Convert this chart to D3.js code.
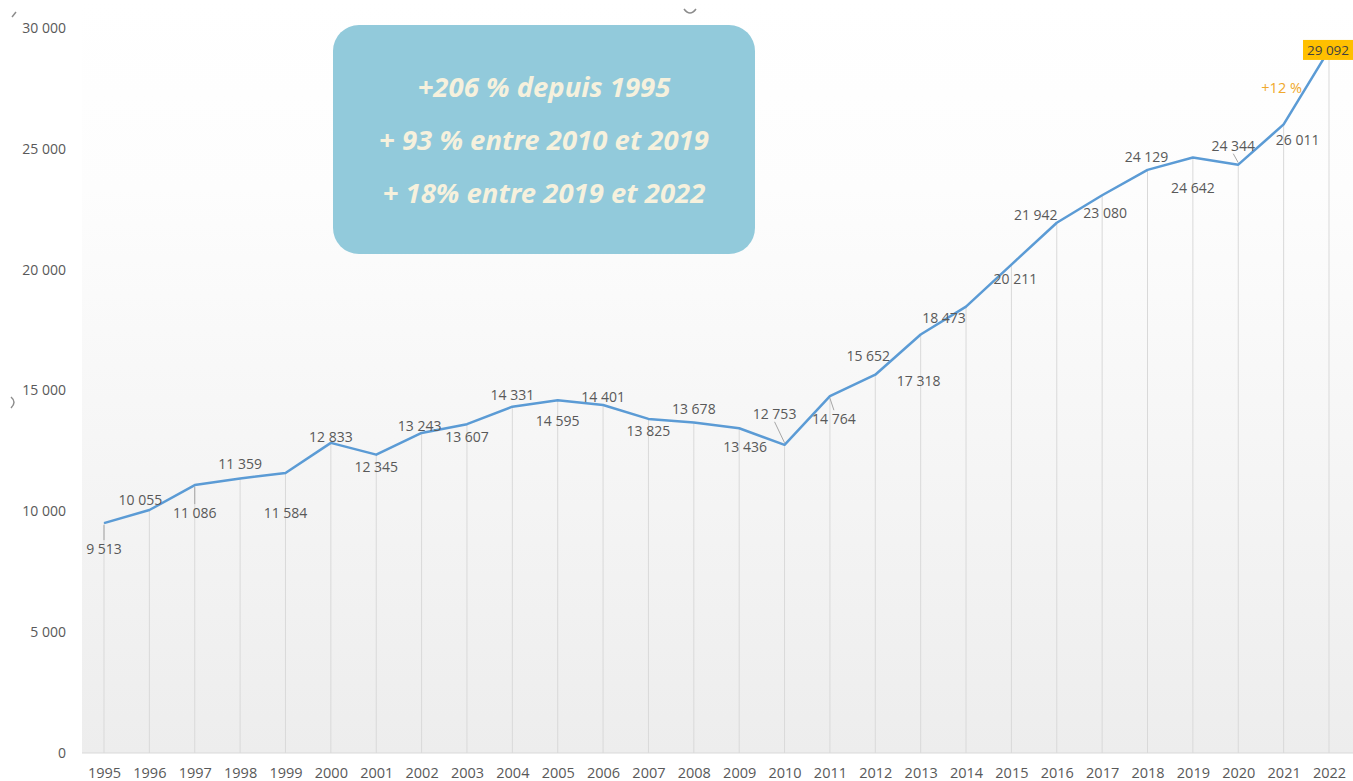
<!DOCTYPE html>
<html>
<head>
<meta charset="utf-8">
<script src="https://cdn.jsdelivr.net/npm/d3@7"></script>
<style>
  body { margin: 0; background: #fff; }
  svg { display: block; font-family: "Open Sans", "Noto Sans", sans-serif; }
</style>
</head>
<body>
<div id="chart"></div>
<script>
// data
const years = [1995, 1996, 1997, 1998, 1999, 2000, 2001, 2002, 2003, 2004,
  2005, 2006, 2007, 2008, 2009, 2010, 2011, 2012, 2013, 2014,
  2015, 2016, 2017, 2018, 2019, 2020, 2021, 2022];
const values = [9513, 10055, 11086, 11359, 11584, 12833, 12345, 13243, 13607, 14331,
  14595, 14401, 13825, 13678, 13436, 12753, 14764, 15652, 17318, 18473,
  20211, 21942, 23080, 24129, 24642, 24344, 26011, 29092];
const yTicks = [0, 5000, 10000, 15000, 20000, 25000, 30000];
const boxLines = ["+206 % depuis 1995", "+ 93 % entre 2010 et 2019", "+ 18% entre 2019 et 2022"];
const growthLabel = "+12 %";

// label placement (dx, dy from point, optional leader)
const place = [
  [0, 25, 1], [-9, -11], [0, 27, 1], [0, -15], [0, 39], [0, -6], [0, 12], [-2, -7],
  [0, 12], [0, -12], [0, 20], [0, -8], [0, 12], [0, -14], [6, 18], [-10, -31, 1],
  [4, 22, 1], [-7, -19], [-2, 46], [-22, 11], [4, 14], [-21, -8], [3, 17], [-1, -13],
  [0, 30], [-5, -19, 1], [14, 15]
];

const width = 1353, height = 781;
const margin = { left: 104, right: 24, top: 28, bottom: 28 };
const fmt = v => d3.format(",")(v).replace(/,/g, " ");

const svg = d3.select("#chart").append("svg")
  .attr("width", width).attr("height", height);

const defs = svg.append("defs");
const grad = defs.append("linearGradient").attr("id", "bg")
  .attr("x1", 0).attr("y1", 0).attr("x2", 0).attr("y2", 1);
grad.append("stop").attr("offset", "0%").attr("stop-color", "#ffffff");
grad.append("stop").attr("offset", "25%").attr("stop-color", "#fdfdfd");
grad.append("stop").attr("offset", "100%").attr("stop-color", "#ededed");

const x = d3.scaleLinear().domain([1995, 2022]).range([margin.left, width - margin.right]);
const y = d3.scaleLinear().domain([0, 30000]).range([height - margin.bottom, margin.top]);

svg.append("rect")
  .attr("x", 82).attr("y", 0)
  .attr("width", width - 82).attr("height", y(0))
  .attr("fill", "url(#bg)");

// baseline
svg.append("line")
  .attr("x1", 82).attr("x2", width)
  .attr("y1", y(0)).attr("y2", y(0))
  .attr("stroke", "#d9d9d9").attr("stroke-width", 1);

// drop lines
svg.append("g").selectAll("line")
  .data(years)
  .join("line")
  .attr("x1", d => x(d)).attr("x2", d => x(d))
  .attr("y1", (d, i) => y(values[i]))
  .attr("y2", y(0))
  .attr("stroke", "#d9d9d9").attr("stroke-width", 1);

// y axis labels
const yAxis = d3.axisLeft(y).tickValues(yTicks).tickSize(0).tickPadding(0).tickFormat(fmt);
svg.append("g")
  .attr("transform", "translate(66,0)")
  .call(yAxis)
  .call(g => g.select(".domain").remove())
  .selectAll("text")
  .attr("fill", "#595959")
  .style("font-size", "14px")
  .style("font-family", "'Open Sans', sans-serif");

// x axis labels
const xAxis = d3.axisBottom(x).tickValues(years).tickSize(0).tickPadding(0).tickFormat(d => d);
svg.append("g")
  .attr("transform", "translate(0," + (y(0) + 15) + ")")
  .call(xAxis)
  .call(g => g.select(".domain").remove())
  .selectAll("text")
  .attr("fill", "#595959")
  .style("font-size", "14.5px")
  .style("font-family", "'Open Sans', sans-serif");

// leader lines
const leaders = svg.append("g");
place.forEach((p, i) => {
  if (!p[2]) return;
  const px = x(years[i]), py = y(values[i]);
  const lx = px + p[0], ly = py + p[1];
  const towardY = ly + (p[1] > 0 ? -8 : 8);
  leaders.append("line")
    .attr("x1", lx).attr("y1", towardY)
    .attr("x2", px).attr("y2", py + (p[1] > 0 ? 2 : -2))
    .attr("stroke", "#a6a6a6").attr("stroke-width", 1);
});

// line
const line = d3.line().x((d, i) => x(years[i])).y(d => y(d));
svg.append("path")
  .datum(values)
  .attr("d", line)
  .attr("fill", "none")
  .attr("stroke", "#5b9bd5")
  .attr("stroke-width", 2.5)
  .attr("stroke-linejoin", "round");

// value labels
svg.append("g").selectAll("text")
  .data(values.slice(0, place.length))
  .join("text")
  .attr("x", (d, i) => x(years[i]) + place[i][0])
  .attr("y", (d, i) => y(d) + place[i][1])
  .attr("text-anchor", "middle")
  .attr("dominant-baseline", "central")
  .attr("fill", "#595959")
  .style("font-size", "14px")
  .text(d => fmt(d));

// last value highlighted
const lastI = values.length - 1;
const lx = x(years[lastI]), ly = y(values[lastI]);
svg.append("rect")
  .attr("x", lx - 26).attr("y", ly - 10)
  .attr("width", 50).attr("height", 20)
  .attr("fill", "#ffc000");
svg.append("text")
  .attr("x", lx - 1).attr("y", ly)
  .attr("text-anchor", "middle")
  .attr("dominant-baseline", "central")
  .attr("fill", "#404040")
  .style("font-size", "13.5px")
  .text(fmt(values[lastI]));

svg.append("text")
  .attr("x", x(2021) - 2).attr("y", 87)
  .attr("text-anchor", "middle")
  .attr("dominant-baseline", "central")
  .attr("fill", "#f0a92c")
  .style("font-size", "14.5px")
  .text(growthLabel);

// info box
svg.append("rect")
  .attr("x", 333).attr("y", 25)
  .attr("width", 422).attr("height", 229)
  .attr("rx", 26).attr("ry", 26)
  .attr("fill", "#92cadb");
svg.append("g").selectAll("text")
  .data(boxLines)
  .join("text")
  .attr("x", 544)
  .attr("y", (d, i) => 86 + i * 53)
  .attr("text-anchor", "middle")
  .attr("dominant-baseline", "central")
  .attr("fill", "#f6f1dd")
  .style("font-size", "27.5px")
  .style("font-weight", "bold")
  .style("font-style", "italic")
  .style("font-family", "'Noto Sans', sans-serif")
  .text(d => d);

// stray crop marks from the original screenshot
const marks = svg.append("g").attr("fill", "none").attr("stroke", "#8c8c8c").attr("stroke-width", 1.5);
marks.append("path").attr("d", "M684,9 Q690,17 696,9");
marks.append("path").attr("d", "M11,397 Q17,402 11,408");
marks.append("path").attr("d", "M12,17 L16,12");
</script>
</body>
</html>
